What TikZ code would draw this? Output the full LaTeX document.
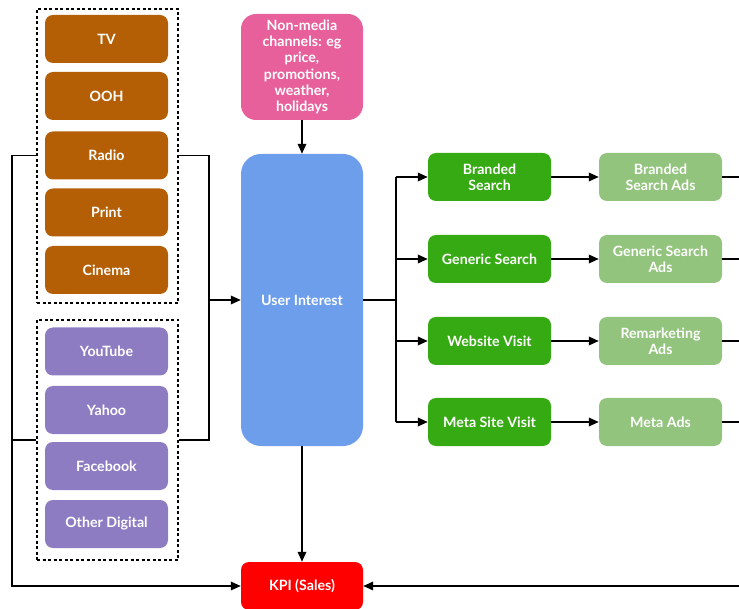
\documentclass[tikz,border=0pt]{standalone}
\usepackage{fontspec}
\setmainfont{Lato}
\usetikzlibrary{arrows.meta}
\definecolor{cbrown}{HTML}{B45F06}
\definecolor{cpurple}{HTML}{8E7CC3}
\definecolor{cpink}{HTML}{E7609B}
\definecolor{cblue}{HTML}{6D9EEB}
\definecolor{cgreen}{HTML}{36AA12}
\definecolor{clight}{HTML}{93C47D}
\definecolor{cred}{HTML}{FF0000}
\begin{document}
\begin{tikzpicture}[x=1pt,y=-1pt,
  box/.style={rounded corners=8pt, minimum width=123pt, minimum height=48pt,
    text=white, font=\bfseries\fontsize{14.2}{16.3}\selectfont, align=center, inner sep=2pt},
  media/.style={box, fill=cbrown},
  digital/.style={box, fill=cpurple},
  gbox/.style={box, fill=cgreen},
  lbox/.style={box, fill=clight},
  group/.style={draw=black, line width=1.1pt, dash pattern=on 3pt off 2.5pt, minimum width=141pt},
  conn/.style={draw=black, line width=1.8pt},
  arr/.style={conn, -{Triangle[length=10pt,width=8.5pt]}}
]
\useasboundingbox (0,0) rectangle (739,609);
\clip (0,0) rectangle (739,609);

% groups
\node[group, minimum height=294pt] (tradbox) at (107.5,156) {};
\node[group, minimum height=240pt] (digbox) at (107.5,440) {};

% traditional media
\node[media] (tv) at (106.5,39) {TV};
\node[media] (ooh) at (106.5,96) {OOH};
\node[media] (radio) at (106.5,155.5) {Radio};
\node[media] (print) at (106.5,212.5) {Print};
\node[media] (cinema) at (106.5,270) {Cinema};

% digital media
\node[digital] (youtube) at (106.5,351.5) {YouTube};
\node[digital] (yahoo) at (106.5,410) {Yahoo};
\node[digital] (facebook) at (106.5,466) {Facebook};
\node[digital] (other) at (106.5,524) {Other Digital};

% centre column
\node[box, fill=cpink, minimum width=122pt, minimum height=106pt, rounded corners=15pt] (nonmedia) at (302,67)
  {Non-media\\channels: eg\\price,\\promotions,\\weather,\\holidays};
\node[box, fill=cblue, minimum width=122pt, minimum height=292pt, rounded corners=20pt] (user) at (302,300) {User Interest};
\node[box, fill=cred, minimum width=122pt, minimum height=48pt] (kpi) at (302,586) {KPI (Sales)};

% search / visit
\node[gbox] (bs) at (489.5,177) {Branded\\Search};
\node[gbox] (gs) at (489.5,259) {Generic Search};
\node[gbox] (wv) at (489.5,341) {Website Visit};
\node[gbox] (ms) at (489.5,422) {Meta Site Visit};

\node[lbox] (bsa) at (660.5,177) {Branded\\Search Ads};
\node[lbox] (gsa) at (660.5,259) {Generic Search\\Ads};
\node[lbox] (ra) at (660.5,341) {Remarketing\\Ads};
\node[lbox] (ma) at (660.5,422) {Meta Ads};

% helper coordinates
\coordinate (lx) at (12,0);
\coordinate (rx) at (209,0);
\coordinate (sx) at (396,0);
\coordinate (rr) at (739,0);

% left bracket to KPI
\draw[conn] (digbox.west) -- (lx |- digbox);
\draw[arr] (tradbox.west |- radio) -- (lx |- radio) -- (lx |- kpi) -- (kpi.west);

% right bracket to user interest
\draw[conn] (tradbox.east |- radio) -- (rx |- radio) -- (rx |- digbox) -- (digbox.east);
\draw[arr] (rx |- user) -- (user.west);

% vertical arrows
\draw[arr] (nonmedia.south) -- (user.north);
\draw[arr] (user.south) -- (kpi.north);

% split to green boxes
\draw[conn] (user.east) -- (sx |- user);
\draw[conn] (sx |- bs) -- (sx |- ms);
\draw[arr] (sx |- bs) -- (bs.west);
\draw[arr] (sx |- gs) -- (gs.west);
\draw[arr] (sx |- wv) -- (wv.west);
\draw[arr] (sx |- ms) -- (ms.west);

% green to light green
\draw[arr] (bs.east) -- (bsa.west);
\draw[arr] (gs.east) -- (gsa.west);
\draw[arr] (wv.east) -- (ra.west);
\draw[arr] (ms.east) -- (ma.west);

% exits to right edge
\draw[conn] (bsa.east) -- (rr |- bsa);
\draw[conn] (gsa.east) -- (rr |- gsa);
\draw[conn] (ra.east) -- (rr |- ra);
\draw[conn] (ma.east) -- (rr |- ma);
\draw[arr] (rr |- kpi) -- (kpi.east);
\end{tikzpicture}
\end{document}
